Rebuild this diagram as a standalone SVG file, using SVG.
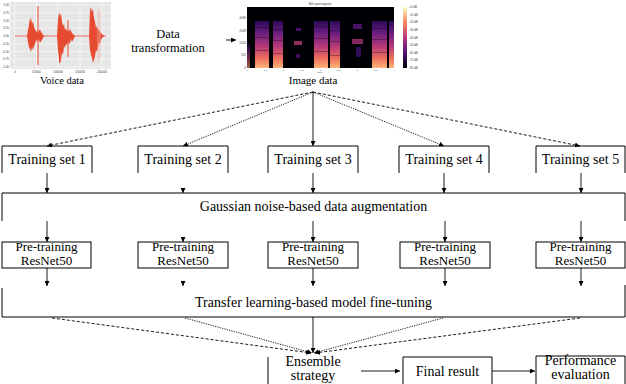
<svg xmlns="http://www.w3.org/2000/svg" width="626" height="384" viewBox="0 0 626 384">
<defs>
<marker id="ah" viewBox="0 0 6 6" refX="6" refY="3" markerWidth="5" markerHeight="5" orient="auto" markerUnits="userSpaceOnUse"><path d="M0,0 L6,3 L0,6 z" fill="#000"/></marker>
<linearGradient id="spec" x1="0" y1="0" x2="0" y2="1">
<stop offset="0" stop-color="#2a0a55"/>
<stop offset="0.25" stop-color="#6a1d80"/>
<stop offset="0.55" stop-color="#b83a78"/>
<stop offset="0.8" stop-color="#f0705c"/>
<stop offset="1" stop-color="#fcb77a"/>
</linearGradient>
<linearGradient id="cbar" x1="0" y1="0" x2="0" y2="1">
<stop offset="0" stop-color="#fcfdbf"/>
<stop offset="0.25" stop-color="#fc8961"/>
<stop offset="0.5" stop-color="#b73779"/>
<stop offset="0.75" stop-color="#51127c"/>
<stop offset="1" stop-color="#000004"/>
</linearGradient>
<style>
.t{font-family:"Liberation Serif","Times New Roman",serif;font-size:14px;fill:#000;text-anchor:middle}
.p{font-size:13px}
.s{font-family:"Liberation Sans",Arial,sans-serif;font-size:3px;fill:#444}
.bx{fill:none;stroke:#000;stroke-width:1}
.c{fill:none;stroke:#000;stroke-width:0.9}
.a{marker-end:url(#ah)}
.d1{stroke-dasharray:3,2}
.d2{stroke-dasharray:1.2,1.2}
.g{stroke:#fff;stroke-width:0.5}
</style>
</defs>

<g id="voice-data">
<rect x="10" y="2" width="101" height="67" fill="#e6e6e6"/>
<g class="g">
<path d="M15,2V69M36.5,2V69M58,2V69M80,2V69M102,2V69"/>
<path d="M10,5H111M10,12.75H111M10,20.5H111M10,28.25H111M10,36H111M10,43.75H111M10,51.5H111M10,59.25H111M10,67H111"/>
</g>
<path d="M15,36H106" stroke="#e64a31" stroke-width="0.8"/>
<polygon fill="#e64a31" points="27,36 28,30 29,25 29.5,19 30,22 31,17 32,24 33,21 34,27 35,29 36,32 37,30 38,33 39,31 40,29 41,32 42,33 43,35 44,36 43,38 42,40 41,41 40,43 39,40 38,39 37,42 36,40 35,44 34,46 33,50 32,47 31,52 30,49 29,47 28,42"/>
<polygon fill="#e64a31" points="57,36 58,20 59,12 60,16 61,14 62,22 63,26 64,24 65,30 66,28 67,31 68,30 69,32 70,29 71,31 72,33 73,34 74,35 75,36 74,38 73,40 72,42 71,39 70,43 69,44 68,41 67,45 66,44 65,48 64,46 63,55 62,52 61,60 60,63 59,58 58,50"/>
<polygon fill="#e64a31" points="89,36 90,10 91,7 92,12 93,9 94,18 95,22 96,28 97,26 98,30 99,29 100,32 101,33 102,34 103,35 104,36 103,37 102,38 101,40 100,44 99,42 98,48 97,52 96,50 95,56 94,60 93,63 92,58 91,55 90,50"/>
<path d="M98,10V62M100,12V58" stroke="#f0b0a6" stroke-width="0.8"/>
<path d="M38,6V65M59.5,18V63M68,20V57" stroke="#e64a31" stroke-width="1"/>
<g class="s" text-anchor="end">
<text x="9" y="6">1.00</text><text x="9" y="13.75">0.75</text><text x="9" y="21.5">0.50</text><text x="9" y="29.25">0.25</text><text x="9" y="37">0.00</text><text x="9" y="44.75">-0.25</text><text x="9" y="52.5">-0.50</text><text x="9" y="60.25">-0.75</text><text x="9" y="68">-1.00</text>
</g>
<g class="s" text-anchor="middle">
<text x="15" y="73">0</text><text x="36.5" y="73">50000</text><text x="58" y="73">100000</text><text x="80" y="73">150000</text><text x="102" y="73">200000</text>
</g>
<text class="t" x="62" y="84" style="font-size:10.5px">Voice data</text>
</g>

<g id="data-transformation">
<text class="t" x="168" y="38" style="font-size:12.5px">Data</text>
<text class="t" x="168" y="52" style="font-size:12.5px">transformation</text>
<path class="c a" d="M226,40H236"/>
</g>

<g id="image-data">
<rect x="247" y="7" width="147" height="61" fill="#000004"/>
<g fill="url(#spec)">
<rect x="255" y="21" width="14" height="47"/>
<rect x="273" y="21" width="10" height="47"/>
<rect x="314" y="21" width="14" height="47"/>
<rect x="330" y="21" width="10" height="47"/>
<rect x="372" y="21" width="15" height="47"/>
<rect x="389" y="21" width="5" height="47"/>
<rect x="247" y="44" width="3" height="24" opacity="0.6"/>
</g>
<g fill="#000004" opacity="0.3">
<rect x="255" y="27" width="14" height="1.2"/><rect x="273" y="29" width="10" height="1.2"/><rect x="314" y="26" width="14" height="1.2"/><rect x="330" y="30" width="10" height="1.2"/><rect x="372" y="28" width="15" height="1.2"/>
<rect x="255" y="37" width="14" height="1"/><rect x="273" y="40" width="10" height="1"/><rect x="314" y="38" width="14" height="1"/><rect x="330" y="41" width="10" height="1"/><rect x="372" y="39" width="15" height="1"/>
<rect x="255" y="50" width="14" height="1"/><rect x="273" y="53" width="10" height="1"/><rect x="314" y="51" width="14" height="1"/><rect x="330" y="55" width="10" height="1"/><rect x="372" y="52" width="15" height="1"/>
</g>
<g opacity="0.8">
<rect x="296" y="28" width="5" height="3" fill="#5a1880"/>
<rect x="294" y="41" width="8" height="4" fill="#b83a78"/>
<rect x="296" y="54" width="4" height="4" fill="#4a1070"/>
<rect x="353" y="24" width="9" height="5" fill="#5a1880"/>
<rect x="352" y="39" width="11" height="5" fill="#a83277"/>
<rect x="356" y="47" width="5" height="10" fill="#3e0f6a"/>
</g>
<rect x="403" y="7" width="4" height="61" fill="url(#cbar)"/>
<text class="s" x="320" y="5" text-anchor="middle">Mel spectrogram</text>
<g class="s" text-anchor="end">
<text x="246" y="19">4096</text><text x="246" y="32">2048</text><text x="246" y="44">1024</text><text x="246" y="56">512</text><text x="246" y="69">0</text>
</g>
<g class="s" text-anchor="middle" style="font-size:2.4px">
<text x="247" y="70.6">0</text><text x="265.4" y="70.6">0.5</text><text x="283.8" y="70.6">1</text><text x="302.1" y="70.6">1.5</text><text x="320.5" y="70.6">2</text><text x="338.9" y="70.6">2.5</text><text x="357.3" y="70.6">3</text><text x="375.6" y="70.6">3.5</text><text x="394" y="70.6">4</text>
<text x="320" y="73.4" style="font-size:2.2px">Time</text>
</g>
<g class="s">
<text x="409" y="8">+0 dB</text><text x="409" y="15.6">-10 dB</text><text x="409" y="23.3">-20 dB</text><text x="409" y="30.9">-30 dB</text><text x="409" y="38.5">-40 dB</text><text x="409" y="46.1">-50 dB</text><text x="409" y="53.8">-60 dB</text><text x="409" y="61.4">-70 dB</text><text x="409" y="69">-80 dB</text>
</g>
<text class="t" x="313" y="84" style="font-size:11px">Image data</text>
</g>

<g id="training-set-1"><path class="bx" d="M2,173V146H92V173"/><text class="t" x="47" y="164">Training set 1</text></g>
<g id="training-set-2"><path class="bx" d="M138,173V146H228V173"/><text class="t" x="183" y="164">Training set 2</text></g>
<g id="training-set-3"><path class="bx" d="M268,173V146H358V173"/><text class="t" x="313" y="164">Training set 3</text></g>
<g id="training-set-4"><path class="bx" d="M399,173V146H489V173"/><text class="t" x="444" y="164">Training set 4</text></g>
<g id="training-set-5"><path class="bx" d="M536,173V146H625V173"/><text class="t" x="580.5" y="164">Training set 5</text></g>

<g id="gaussian-augmentation"><path class="bx" d="M2,221V193H625V221"/><text class="t" x="313.5" y="211">Gaussian noise-based data augmentation</text></g>

<g id="resnet-1"><rect class="bx" x="2" y="242" width="89" height="26"/><text class="t p" x="46.5" y="250.5">Pre-training</text><text class="t p" x="46.5" y="265">ResNet50</text></g>
<g id="resnet-2"><rect class="bx" x="138" y="242" width="90" height="26"/><text class="t p" x="183" y="250.5">Pre-training</text><text class="t p" x="183" y="265">ResNet50</text></g>
<g id="resnet-3"><rect class="bx" x="268" y="242" width="90" height="26"/><text class="t p" x="313" y="250.5">Pre-training</text><text class="t p" x="313" y="265">ResNet50</text></g>
<g id="resnet-4"><rect class="bx" x="400" y="242" width="90" height="26"/><text class="t p" x="445" y="250.5">Pre-training</text><text class="t p" x="445" y="265">ResNet50</text></g>
<g id="resnet-5"><rect class="bx" x="536" y="242" width="89" height="26"/><text class="t p" x="580.5" y="250.5">Pre-training</text><text class="t p" x="580.5" y="265">ResNet50</text></g>

<g id="transfer-finetuning"><path class="bx" d="M2,288V317H625V285"/><text class="t" x="313.5" y="307">Transfer learning-based model fine-tuning</text></g>

<g id="ensemble-strategy"><path class="bx" d="M268,357V384"/><text class="t" x="313" y="366">Ensemble</text><text class="t" x="313" y="380">strategy</text></g>
<g id="final-result"><path class="bx" d="M403,384V357H492V384"/><text class="t" x="447.5" y="376">Final result</text></g>
<g id="performance-evaluation"><path class="bx" d="M536,384V356H625V384"/><text class="t" x="580.5" y="365">Performance</text><text class="t" x="580.5" y="379">evaluation</text></g>

<g id="connectors">
<path class="c a d1" d="M313,92L47,146"/>
<path class="c a d2" d="M313,92L183,146"/>
<path class="c a" d="M313,92V146"/>
<path class="c a d2" d="M313,92L444,146"/>
<path class="c a d1" d="M313,92L580,146"/>

<path class="c a" d="M47,173V193"/>
<path class="c a" d="M183,189V193"/>
<path class="c a" d="M313,173V193"/>
<path class="c a" d="M444,173V193"/>
<path class="c a" d="M581,173V193"/>

<path class="c a" d="M47,221V242"/>
<path class="c a" d="M183,238V242"/>
<path class="c a" d="M313,221V242"/>
<path class="c a" d="M445,221V242"/>
<path class="c a" d="M581,221V242"/>

<path class="c a" d="M47,268V286"/>
<path class="c a" d="M183,282V286"/>
<path class="c a" d="M313,268V286"/>
<path class="c a" d="M445,268V286"/>
<path class="c a" d="M581,268V286"/>

<path class="c a d1" d="M52,318L311,353"/>
<path class="c a d2" d="M185,318L312,353"/>
<path class="c a" d="M313,317V353"/>
<path class="c a d2" d="M443,318L314,353"/>
<path class="c a d1" d="M580,318L315,353"/>

<path class="c a" d="M361,371H400"/>
<path class="c a" d="M492,371H535"/>
</g>
</svg>
